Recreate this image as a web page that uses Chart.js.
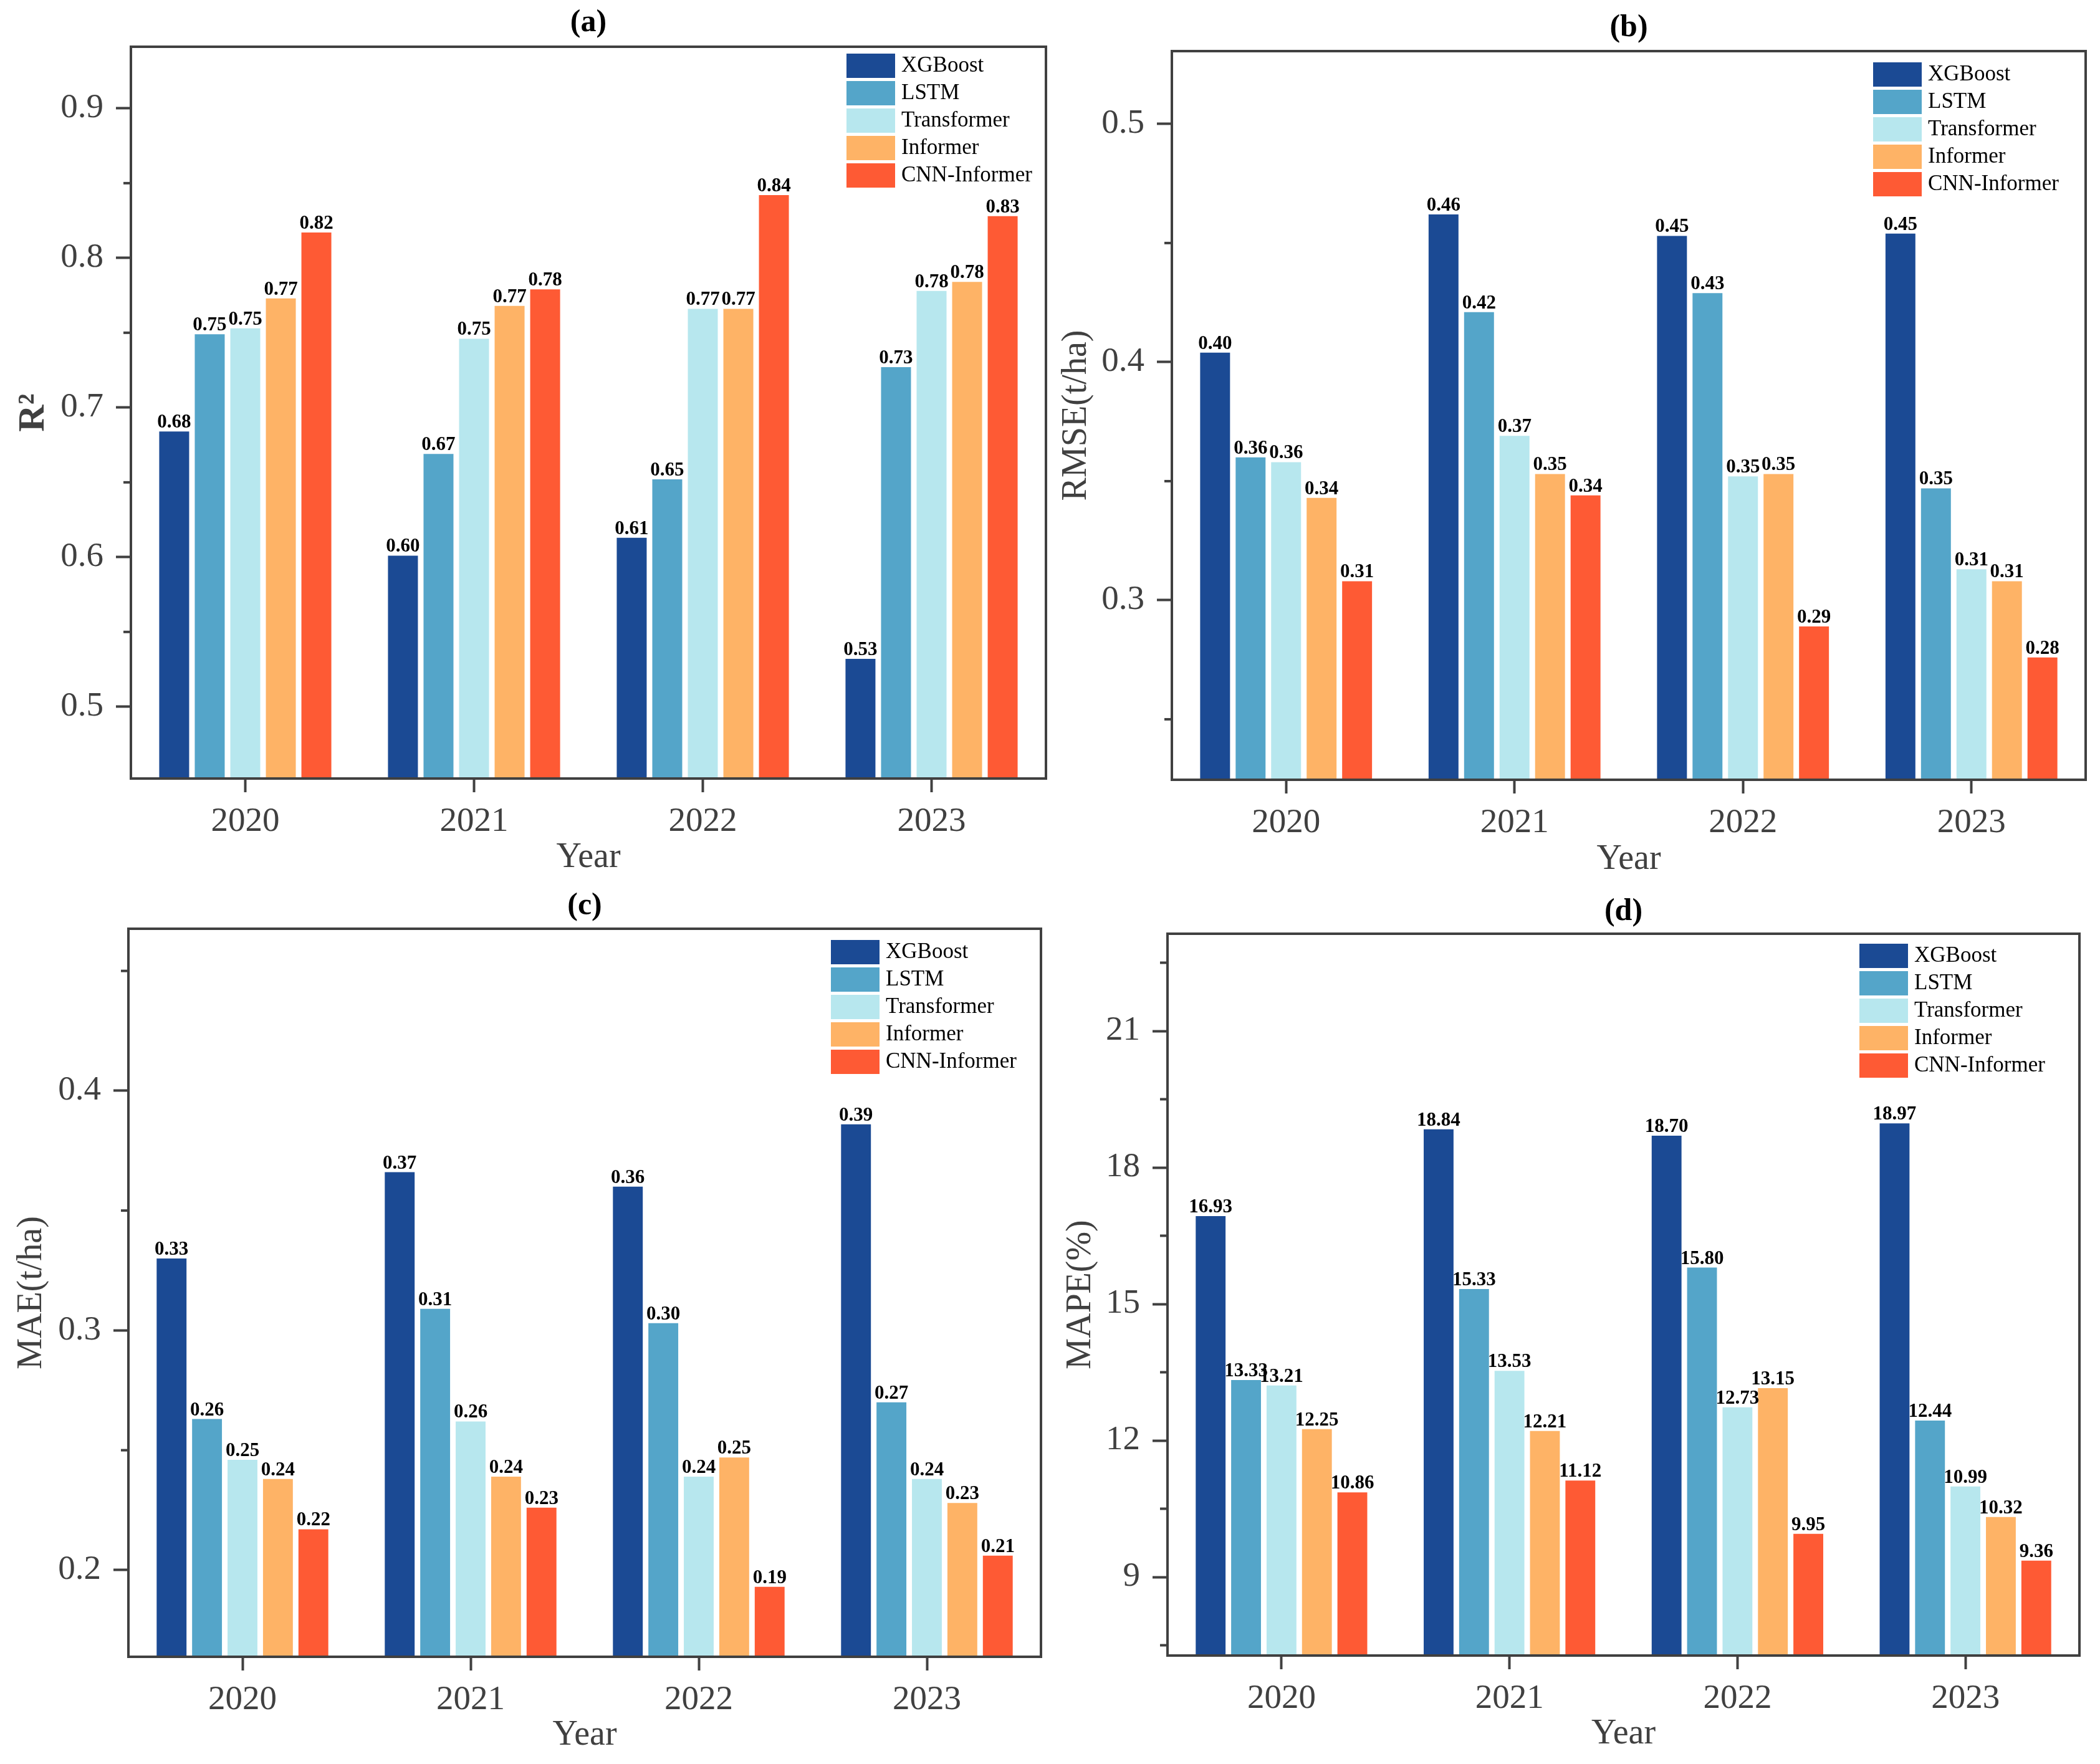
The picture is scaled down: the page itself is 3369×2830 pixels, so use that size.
<!DOCTYPE html>
<html>
<head>
<meta charset="utf-8">
<script src="https://cdn.jsdelivr.net/npm/chart.js@4.4.1/dist/chart.umd.min.js"></script>
<style>
  html, body { margin: 0; padding: 0; background: #fff; }
  body { width: 3369px; height: 2830px; position: relative; overflow: hidden; }
  .panel { position: absolute; }
</style>
</head>
<body>
<div class="panel" style="left:0px;top:0px"><canvas id="chartA" width="1700" height="1420"></canvas></div>
<div class="panel" style="left:1690px;top:0px"><canvas id="chartB" width="1679" height="1420"></canvas></div>
<div class="panel" style="left:0px;top:1420px"><canvas id="chartC" width="1700" height="1410"></canvas></div>
<div class="panel" style="left:1690px;top:1420px"><canvas id="chartD" width="1679" height="1410"></canvas></div>
<script>
const years = ["2020", "2021", "2022", "2023"];
const models = ["XGBoost", "LSTM", "Transformer", "Informer", "CNN-Informer"];

// (a) R2
const r2XGBoost = [0.684, 0.601, 0.613, 0.532];
const r2LSTM = [0.749, 0.669, 0.652, 0.727];
const r2Transformer = [0.753, 0.746, 0.766, 0.778];
const r2Informer = [0.773, 0.768, 0.766, 0.784];
const r2CNNInformer = [0.817, 0.779, 0.842, 0.828];

// (b) RMSE (t/ha)
const rmseXGBoost = [0.404, 0.462, 0.453, 0.454];
const rmseLSTM = [0.360, 0.421, 0.429, 0.347];
const rmseTransformer = [0.358, 0.369, 0.352, 0.313];
const rmseInformer = [0.343, 0.353, 0.353, 0.308];
const rmseCNNInformer = [0.308, 0.344, 0.289, 0.276];

// (c) MAE (t/ha)
const maeXGBoost = [0.330, 0.366, 0.360, 0.386];
const maeLSTM = [0.263, 0.309, 0.303, 0.270];
const maeTransformer = [0.246, 0.262, 0.239, 0.238];
const maeInformer = [0.238, 0.239, 0.247, 0.228];
const maeCNNInformer = [0.217, 0.226, 0.193, 0.206];

// (d) MAPE (%)
const mapeXGBoost = [16.93, 18.84, 18.70, 18.97];
const mapeLSTM = [13.33, 15.33, 15.80, 12.44];
const mapeTransformer = [13.21, 13.53, 12.73, 10.99];
const mapeInformer = [12.25, 12.21, 13.15, 10.32];
const mapeCNNInformer = [10.86, 11.12, 9.95, 9.36];

// y ticks
const r2Ticks = [0.5, 0.6, 0.7, 0.8, 0.9];
const r2TickLabels = ["0.5", "0.6", "0.7", "0.8", "0.9"];
const r2MinorTicks = [0.55, 0.65, 0.75, 0.85];
const rmseTicks = [0.3, 0.4, 0.5];
const rmseTickLabels = ["0.3", "0.4", "0.5"];
const rmseMinorTicks = [0.25, 0.35, 0.45];
const maeTicks = [0.2, 0.3, 0.4];
const maeTickLabels = ["0.2", "0.3", "0.4"];
const maeMinorTicks = [0.25, 0.35, 0.45];
const mapeTicks = [9, 12, 15, 18, 21];
const mapeTickLabels = ["9", "12", "15", "18", "21"];
const mapeMinorTicks = [7.5, 10.5, 13.5, 16.5, 19.5, 22.5];

const modelColors = ["#1b4a94", "#54a5c9", "#b7e7ee", "#feb366", "#fe5a34"];
const serif = "'Liberation Serif', 'Times New Roman', serif";
const ink = "#404040";

// box round the plot area
const frameBox = {
  id: "frameBox",
  afterDraw(chart) {
    const { ctx, chartArea: a } = chart;
    ctx.save();
    ctx.strokeStyle = ink;
    ctx.lineWidth = 4;
    ctx.strokeRect(a.left, a.top, a.right - a.left, a.bottom - a.top);
    ctx.restore();
  },
};

// short ticks between the labelled ones
const minorTicks = {
  id: "minorTicks",
  afterDraw(chart, args, opts) {
    const y = chart.scales.y;
    const ctx = chart.ctx;
    ctx.save();
    ctx.strokeStyle = ink;
    ctx.lineWidth = 4;
    (opts.values || []).forEach((v) => {
      const p = y.getPixelForValue(v);
      ctx.beginPath();
      ctx.moveTo(y.right - opts.length, p);
      ctx.lineTo(y.right, p);
      ctx.stroke();
    });
    ctx.restore();
  },
};

// value printed on top of every bar
const valueLabels = {
  id: "valueLabels",
  afterDatasetsDraw(chart) {
    const ctx = chart.ctx;
    ctx.save();
    ctx.font = "bold 31px " + serif;
    ctx.fillStyle = "#000";
    ctx.textAlign = "center";
    ctx.textBaseline = "alphabetic";
    chart.data.datasets.forEach((ds, i) => {
      chart.getDatasetMeta(i).data.forEach((bar, j) => {
        ctx.fillText(ds.data[j].toFixed(2), bar.x, bar.y - 6);
      });
    });
    ctx.restore();
  },
};

// legend stacked in the top right corner of the plot
const boxLegend = {
  id: "boxLegend",
  afterDraw(chart, args, opts) {
    const { ctx, chartArea } = chart;
    const x0 = chartArea.right - opts.fromRight;
    const y0 = chartArea.top + opts.fromTop;
    ctx.save();
    ctx.font = "35px " + serif;
    ctx.textBaseline = "middle";
    ctx.textAlign = "left";
    chart.data.datasets.forEach((ds, i) => {
      const y = y0 + i * 44;
      ctx.fillStyle = ds.backgroundColor;
      ctx.fillRect(x0, y, 78, 39);
      ctx.fillStyle = "#000";
      ctx.fillText(ds.label, x0 + 88, y + 20);
    });
    ctx.restore();
  },
};

function buildPanel(id, cfg) {
  const datasets = models.map((m, i) => ({
    label: m,
    data: cfg.series[i],
    backgroundColor: modelColors[i],
    categoryPercentage: 0.777,
    barPercentage: 0.842,
  }));
  new Chart(document.getElementById(id), {
    type: "bar",
    data: { labels: years, datasets: datasets },
    options: {
      responsive: false,
      animation: false,
      devicePixelRatio: 1,
      layout: { padding: { left: 0, right: cfg.padRight, top: 0, bottom: 0 } },
      plugins: {
        legend: { display: false },
        tooltip: { enabled: false },
        title: {
          display: true,
          fullSize: false,
          text: cfg.title,
          color: "#000",
          font: { family: serif, size: 50, weight: "bold" },
          padding: { top: cfg.titleTop, bottom: cfg.titleBottom },
        },
        minorTicks: { values: cfg.minor, length: 12 },
        boxLegend: { fromRight: cfg.legendRight, fromTop: cfg.legendTop },
      },
      scales: {
        x: {
          grid: { display: true, drawOnChartArea: false, offset: false, tickLength: 22, tickWidth: 4, tickColor: ink },
          border: { display: false },
          ticks: { color: ink, font: { family: serif, size: 55 }, padding: 15 },
          title: {
            display: true,
            text: "Year",
            color: ink,
            font: { family: serif, size: 56 },
            padding: { top: 0, bottom: cfg.xTitlePad },
          },
          afterFit: (s) => { s.height = cfg.xHeight; },
        },
        y: {
          min: cfg.min,
          max: cfg.max,
          grid: { display: true, drawOnChartArea: false, tickLength: 24, tickWidth: 4, tickColor: ink },
          border: { display: false },
          ticks: {
            color: ink,
            font: { family: serif, size: 55 },
            padding: 20,
            callback: (v, i) => cfg.tickLabels[i],
          },
          afterBuildTicks: (s) => { s.ticks = cfg.ticks.map((v) => ({ value: v })); },
          title: {
            display: true,
            text: cfg.yTitle,
            color: ink,
            font: cfg.yTitleFont,
            padding: { top: cfg.yTitlePad, bottom: 0 },
          },
          afterFit: (s) => { s.width = cfg.yWidth; },
        },
      },
    },
    plugins: [frameBox, minorTicks, valueLabels, boxLegend],
  });
}

buildPanel("chartA", {
  title: "(a)", titleTop: 7, titleBottom: 8,
  series: [r2XGBoost, r2LSTM, r2Transformer, r2Informer, r2CNNInformer],
  min: 0.452, max: 0.9412,
  ticks: r2Ticks, tickLabels: r2TickLabels, minor: r2MinorTicks,
  yTitle: "R²", yTitleFont: { family: serif, size: 60, weight: "bold" }, yTitlePad: 18,
  yWidth: 210, xHeight: 171, padRight: 22, xTitlePad: 10,
  legendRight: 320, legendTop: 11,
});

buildPanel("chartB", {
  title: "(b)", titleTop: 15, titleBottom: 7,
  series: [rmseXGBoost, rmseLSTM, rmseTransformer, rmseInformer, rmseCNNInformer],
  min: 0.2246, max: 0.5306,
  ticks: rmseTicks, tickLabels: rmseTickLabels, minor: rmseMinorTicks,
  yTitle: "RMSE(t/ha)", yTitleFont: { family: serif, size: 56 }, yTitlePad: 4,
  yWidth: 190, xHeight: 169, padRight: 23, xTitlePad: 7,
  legendRight: 341, legendTop: 18,
});

buildPanel("chartC", {
  title: "(c)", titleTop: 4, titleBottom: 6,
  series: [maeXGBoost, maeLSTM, maeTransformer, maeInformer, maeCNNInformer],
  min: 0.1638, max: 0.4676,
  ticks: maeTicks, tickLabels: maeTickLabels, minor: maeMinorTicks,
  yTitle: "MAE(t/ha)", yTitleFont: { family: serif, size: 56 }, yTitlePad: 18,
  yWidth: 206, xHeight: 172, padRight: 30, xTitlePad: 12,
  legendRight: 337, legendTop: 18,
});

buildPanel("chartD", {
  title: "(d)", titleTop: 13, titleBottom: 5,
  series: [mapeXGBoost, mapeLSTM, mapeTransformer, mapeInformer, mapeCNNInformer],
  min: 7.274, max: 23.137,
  ticks: mapeTicks, tickLabels: mapeTickLabels, minor: mapeMinorTicks,
  yTitle: "MAPE(%)", yTitleFont: { family: serif, size: 56 }, yTitlePad: 11,
  yWidth: 183, xHeight: 174, padRight: 33, xTitlePad: 14,
  legendRight: 353, legendTop: 16,
});
</script>
</body>
</html>
